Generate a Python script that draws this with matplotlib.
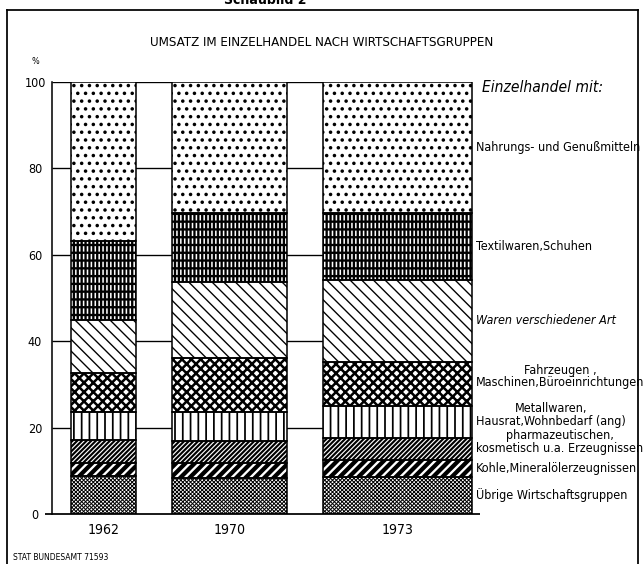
import matplotlib
matplotlib.use("Agg")
import matplotlib.pyplot as plt
from matplotlib.lines import Line2D

# figure is 643x564 px; work in pixels and convert to points
DPI = 140
W, H = 643, 564


def pt(px):
    return px * 72.0 / DPI


plt.rcParams['font.family'] = ['DejaVu Sans']
plt.rcParams['font.stretch'] = 'condensed'

# ---- data (shares in %, bottom to top) ----
years = ["1962", "1970", "1973"]
groups = [
    "Übrige Wirtschaftsgruppen",
    "Kohle,Mineralölerzeugnissen",
    "pharmazeutischen,\nkosmetisch u.a. Erzeugnissen",
    "Metallwaren,\nHausrat,Wohnbedarf (ang)",
    "Fahrzeugen ,\nMaschinen,Büroeinrichtungen",
    "Waren verschiedener Art",
    "Textilwaren,Schuhen",
    "Nahrungs- und Genußmitteln",
]
shares_1962 = [8.8, 3.1, 5.2, 6.4, 9.2, 12.2, 18.4, 36.7]
shares_1970 = [8.4, 3.3, 5.3, 6.5, 12.7, 17.6, 15.8, 30.4]
shares_1973 = [8.6, 3.9, 5.0, 7.6, 10.2, 18.9, 15.4, 30.4]
yticks = [0, 20, 40, 60, 80, 100]

# ---- layout (x in px right of the y axis) ----
bar_left = [19, 120, 271]
bar_width = [65, 115, 149]

# hatch layers per group: (face, hatch, hatch colour, hatch lw)
styles = [
    [("white", "x" * 12, "black", 0.5)],
    [("black", "/" * 5, "white", 1.2)],
    [("white", "/" * 10, "black", 1.1)],
    [("white", "|||", "black", 0.9)],
    [("white", "x" * 5, "black", 1.3)],
    [("white", "\\" * 4, "black", 0.7)],
    [("black", "||||||", "white", 0.8), ("none", "---", "black", 1.2)],
    [("white", "...", "black", 1.0)],
]

fig = plt.figure(figsize=(W / DPI, H / DPI), dpi=DPI)
ax = fig.add_axes([52 / W, 1 - 514 / H, 428 / W, 432 / H])
ax.set_xlim(0, 428)
ax.set_ylim(0, 100)

data = [shares_1962, shares_1970, shares_1973]

# grid lines behind the bars
ax.hlines(yticks[1:], 0, bar_left[-1], color="black", lw=0.7, zorder=0)
ax.hlines(0, -7, bar_left[-1] + bar_width[-1] + 8, color="black", lw=0.9,
          clip_on=False, zorder=5)

for i, shares in enumerate(data):
    bottom = 0
    for g, val in enumerate(shares):
        for face, hatch, hcol, hlw in styles[g]:
            with plt.rc_context({'hatch.linewidth': hlw}):
                bars = ax.bar(bar_left[i], val, bar_width[i], bottom=bottom,
                              align="edge", color=face, edgecolor=hcol,
                              hatch=hatch, linewidth=0, zorder=2)
            for b in bars:
                if hasattr(b, "set_hatch_linewidth"):
                    b.set_hatch_linewidth(hlw)
        ax.bar(bar_left[i], val, bar_width[i], bottom=bottom, align="edge",
               fill=False, edgecolor="black", linewidth=0.8, zorder=3)
        bottom += val

# labels for the 1973 column
right_edge = bar_left[-1] + bar_width[-1]
mids = []
acc = 0
for v in shares_1973:
    mids.append(acc + v / 2)
    acc += v
for g, label in enumerate(groups):
    two = "\n" in label
    ax.annotate(label, xy=(right_edge, mids[g]),
                xytext=(4, 7 if two else 0), textcoords="offset pixels",
                ha="left", va="center", multialignment="center",
                linespacing=0.95, fontsize=pt(12.5),
                style="italic" if g == 5 else "normal",
                annotation_clip=False)

for s in ["top", "right", "bottom"]:
    ax.spines[s].set_visible(False)
ax.spines["left"].set_linewidth(0.8)

ax.set_yticks(yticks)
ax.set_yticklabels([str(t) for t in yticks], fontsize=pt(12.5))
for lab in ax.get_yticklabels():
    lab.set_horizontalalignment("center")
ax.tick_params(axis="y", length=0, pad=pt(17))
ax.set_xticks([l + w / 2 for l, w in zip(bar_left, bar_width)])
ax.set_xticklabels(years, fontsize=pt(14))
ax.tick_params(axis="x", length=0, pad=pt(9))

fig.text(322 / W, 1 - 43 / H, "UMSATZ IM EINZELHANDEL NACH WIRTSCHAFTSGRUPPEN",
         ha="center", va="center", fontsize=pt(13.3))
fig.text(35 / W, 1 - 62 / H, "%", ha="center", va="center", fontsize=pt(9))
fig.text(482 / W, 1 - 88 / H, "Einzelhandel mit:", ha="left", va="center",
         fontsize=pt(15.5), style="italic")
fig.text(13 / W, 1 - 557 / H, "STAT BUNDESAMT 71593", ha="left", va="center",
         fontsize=pt(8.5))
fig.text(265 / W, 1 - 4 / H, "Schaubild 2", ha="center", va="baseline",
         fontsize=pt(14), fontweight="bold")

# frame around the chart
for xs, ys in [([7, 7], [10, H]), ([7, 638], [10, 10]), ([638, 638], [10, H])]:
    fig.add_artist(Line2D([x / W for x in xs], [1 - y / H for y in ys],
                          color="black", lw=0.9))

fig.savefig("out.png", dpi=DPI)
